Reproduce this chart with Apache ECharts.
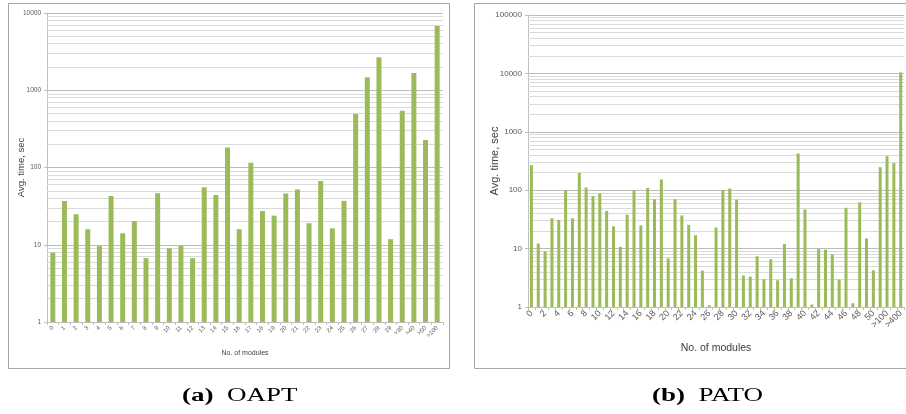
<!DOCTYPE html>
<html>
<head>
<meta charset="utf-8">
<script src="https://cdn.jsdelivr.net/npm/echarts@6/dist/echarts.min.js"></script>
<style>
  html, body { margin: 0; padding: 0; background: #fff; }
  #chart { width: 906px; height: 414px; }
</style>
</head>
<body>
<div id="chart"></div>
<script>
// (a) OAPT
var oaptCats = ["0","1","2","3","4","5","6","7","8","9","10","11","12","13","14","15","16","17","18","19",
  "20","21","22","23","24","25","26","27","28","29",">30",">40",">50",">100"];
var oaptTimes = [7.9, 36.8, 24.8, 15.9, 9.6, 42.8, 14.1, 20.3, 6.7, 46.4, 9.0, 9.7, 6.7, 55.5, 44, 182,
  15.9, 115, 27.3, 23.8, 46, 52, 19, 67, 16.3, 37, 493, 1470, 2670, 11.8, 543, 1672, 227, 6790];

// (b) PATO
var patoCats = ["0","1","2","3","4","5","6","7","8","9","10","11","12","13","14","15","16","17","18","19",
  "20","21","22","23","24","25","26","27","28","29","30","31","32","33","34","35","36","37","38","39",
  "40","41","42","43","44","45","46","47","48","49","50",">50",">100",">200",">400"];
var patoTimes = [269, 12.2, 9.0, 33, 31, 100, 33, 198, 111, 79, 88, 44, 24, 10.7, 38, 100, 25, 110, 70, 153,
  6.8, 70, 37, 25.5, 17, 4.2, 1.07, 23, 100, 107, 69, 3.45, 3.3, 7.4, 3.0, 6.6, 2.87, 12, 3.1, 426,
  47, 1.1, 9.8, 9.6, 7.9, 2.95, 50, 1.16, 62, 14.9, 4.26, 248, 383, 291, 10420];

var captions = [["(a)", "OAPT"], ["(b)", "PATO"]];

var barColor = "#9bbb59";
var labelColor = "#595959";
var font = "Liberation Sans";

// minor grid lines at 2..9 of each decade
function minorLines(maxExp) {
  var out = [];
  for (var e = 0; e < maxExp; e++) {
    for (var k = 2; k <= 9; k++) {
      out.push({ yAxis: k * Math.pow(10, e) });
    }
  }
  return out;
}

function yAxisFor(idx, max, fs, nameFs, nameGap) {
  return {
    type: "log",
    logBase: 10,
    gridIndex: idx,
    min: 1,
    max: max,
    name: "Avg. time, sec",
    nameLocation: "middle",
    nameGap: nameGap,
    nameMoveOverlap: false,
    nameTextStyle: { fontFamily: font, fontSize: nameFs, color: "#404040" },
    axisLine: { show: true, lineStyle: { color: "#bfbfbf" } },
    axisTick: { show: true, length: 3, lineStyle: { color: "#bfbfbf" } },
    axisLabel: {
      fontFamily: font, fontSize: fs, color: labelColor, margin: 6,
      formatter: function (v) { return String(Math.round(v)); }
    },
    splitLine: { show: true, lineStyle: { color: "#bdbdbd", width: 1 } }
  };
}

function xAxisFor(idx, cats, fs, interval, nameFs, nameGap) {
  return {
    type: "category",
    gridIndex: idx,
    data: cats,
    name: "No. of modules",
    nameLocation: "middle",
    nameGap: nameGap,
    nameMoveOverlap: false,
    nameTextStyle: { fontFamily: font, fontSize: nameFs, color: "#404040" },
    axisLine: { lineStyle: { color: "#bfbfbf" } },
    axisTick: { show: true, interval: 0, length: 3, lineStyle: { color: "#bfbfbf" } },
    axisLabel: { interval: interval, rotate: 45, fontFamily: font, fontSize: fs, color: labelColor, margin: 5 }
  };
}

function caption(c, x) {
  return {
    type: "text", x: x, y: 396, scaleX: 1.5, z: 5,
    style: {
      text: "{b|" + c[0] + "}  " + c[1], fontFamily: "Liberation Serif", fontSize: 18, fill: "#000",
      verticalAlign: "middle",
      rich: { b: { fontFamily: "Liberation Serif", fontSize: 18, fontWeight: "bold", fill: "#000" } }
    }
  };
}

var chart = echarts.init(document.getElementById("chart"));
chart.setOption({
  animation: false,
  backgroundColor: "#fff",
  grid: [
    { left: 47, right: 463, top: 13, bottom: 92 },
    { left: 528, right: 1, top: 15, bottom: 107 }
  ],
  xAxis: [
    xAxisFor(0, oaptCats, 6, 0, 7, 28),
    xAxisFor(1, patoCats, 9, 1, 10.5, 36)
  ],
  yAxis: [
    yAxisFor(0, 10000, 6.5, 9.5, 21),
    yAxisFor(1, 100000, 8, 11, 28)
  ],
  series: [
    {
      type: "line", xAxisIndex: 0, yAxisIndex: 0, data: [], z: 1,
      markLine: { silent: true, symbol: "none", label: { show: false }, z: 1,
        lineStyle: { color: "#dadada", type: "solid", width: 1 }, data: minorLines(4) }
    },
    {
      type: "line", xAxisIndex: 1, yAxisIndex: 1, data: [], z: 1,
      markLine: { silent: true, symbol: "none", label: { show: false }, z: 1,
        lineStyle: { color: "#dadada", type: "solid", width: 1 }, data: minorLines(5) }
    },
    {
      type: "bar", xAxisIndex: 0, yAxisIndex: 0, data: oaptTimes, z: 10,
      barWidth: 5, itemStyle: { color: barColor }
    },
    {
      type: "bar", xAxisIndex: 1, yAxisIndex: 1, data: patoTimes, z: 10,
      barWidth: 3, itemStyle: { color: barColor }
    }
  ],
  graphic: [
    { type: "rect", shape: { x: 8.5, y: 3.5, width: 441, height: 365 }, z: 0,
      style: { fill: "none", stroke: "#a6a6a6", lineWidth: 1 } },
    { type: "rect", shape: { x: 474.5, y: 3.5, width: 440, height: 365 }, z: 0,
      style: { fill: "none", stroke: "#a6a6a6", lineWidth: 1 } },
    caption(captions[0], 182),
    caption(captions[1], 652)
  ]
});
</script>
</body>
</html>
